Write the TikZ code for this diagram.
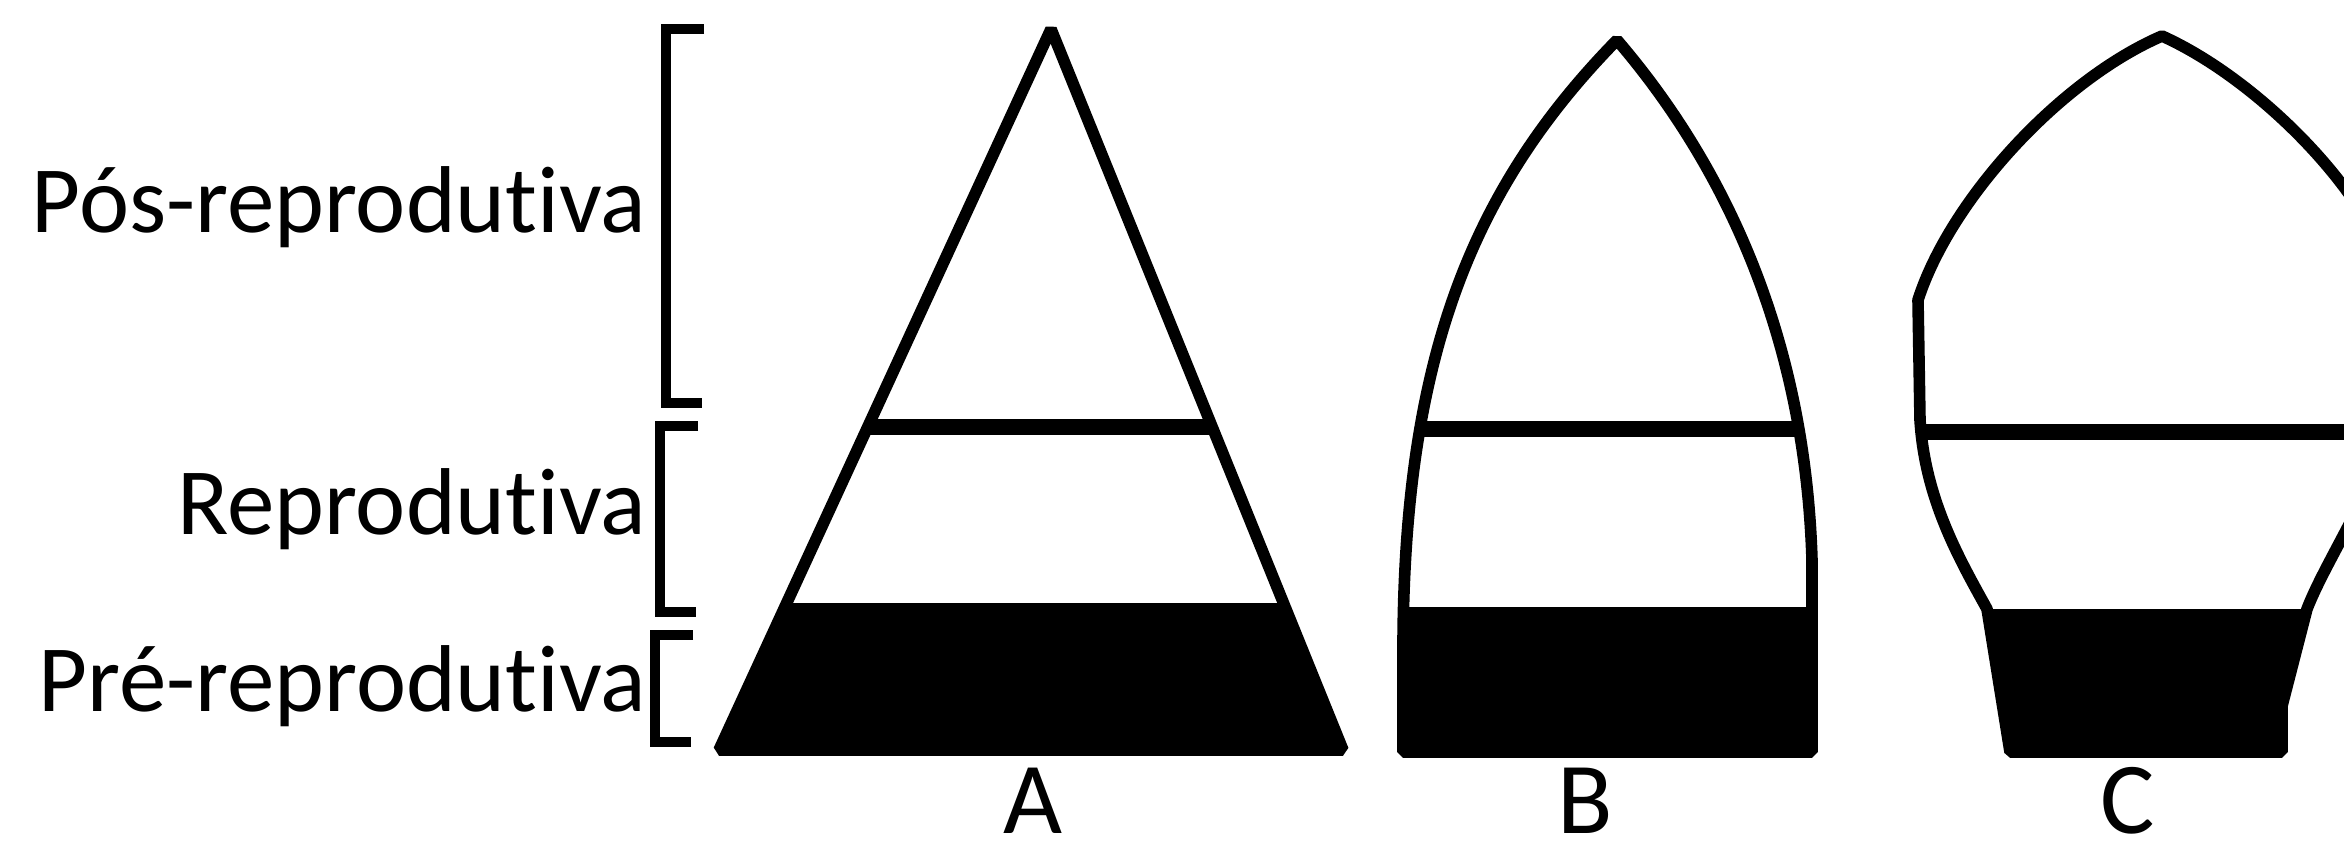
\documentclass[tikz,border=0pt]{standalone}
\usepackage{fontspec}
\setmainfont{Carlito}
\usetikzlibrary{positioning}

\begin{document}
\begin{tikzpicture}[x=0.01cm, y=-0.01cm,
  outline/.style={draw=black, line width=3.3pt, line join=bevel},
  divider/.style={line width=4.6pt},
  bracket/.style={line width=3.1pt},
  agelabel/.style={font=\fontsize{27}{30}\selectfont, anchor=base east, inner sep=0pt},
  letter/.style={font=\fontsize{29}{31}\selectfont, inner sep=0pt},
  pyrA/.style={insert path={(719,750) -- (1051,29) -- (1343,750) -- cycle}},
  pyrB/.style={insert path={(1403,752) -- (1403,640) .. controls (1405,360) and (1470,190) .. (1617,40)
    .. controls (1720,160) and (1805,330) .. (1812,560) -- (1812,752) -- cycle}},
  pyrC/.style={insert path={(2010,752) -- (1987,609) .. controls (1960,560) and (1925,500) .. (1920,420)
    -- (1918,300) .. controls (1950,200) and (2060,80) .. (2162,36)
    .. controls (2260,80) and (2380,200) .. (2400,300) -- (2400,380)
    .. controls (2390,470) and (2330,550) .. (2307,609) -- (2282,706) -- (2282,752) -- cycle}}
]
\clip (0,0) rectangle (2344,852);

% age classes
\node[agelabel] (pos) at (647,233) {Pós-reprodut\kern0pt iva};
\node[agelabel] (rep) at (647,535) {Reprodut\kern0pt iva};
\node[agelabel] (pre) at (647,712) {Pré-reprodut\kern0pt iva};

\foreach \t/\b/\l in {29/403/666, 426/612/660, 635/742/655} {
  \draw[bracket] (\l+38,\t) -- (\l,\t) -- (\l,\b) -- (\l+36,\b);
}

% pyramids
\begin{scope}
  \clip[pyrA];
  \fill (0,603) rectangle (2344,800);
  \draw[divider] (0,427) -- (2344,427);
\end{scope}
\draw[outline, pyrA];

\begin{scope}
  \clip[pyrB];
  \fill (0,607) rectangle (2344,800);
  \draw[divider] (0,429) -- (2344,429);
\end{scope}
\draw[outline, pyrB];

\begin{scope}
  \clip[pyrC];
  \fill (0,609) rectangle (2344,800);
  \draw[divider] (0,432) -- (2344,432);
\end{scope}
\draw[outline, pyrC];

\coordinate (baseA) at (1033,750);
\coordinate (baseB) at (1585,750);
\coordinate (baseC) at (2128,750);
\node[letter, below=0.17cm of baseA] (labA) {A};
\node[letter, below=0.17cm of baseB] (labB) {B};
\node[letter, below=0.17cm of baseC] (labC) {C};
\end{tikzpicture}
\end{document}
